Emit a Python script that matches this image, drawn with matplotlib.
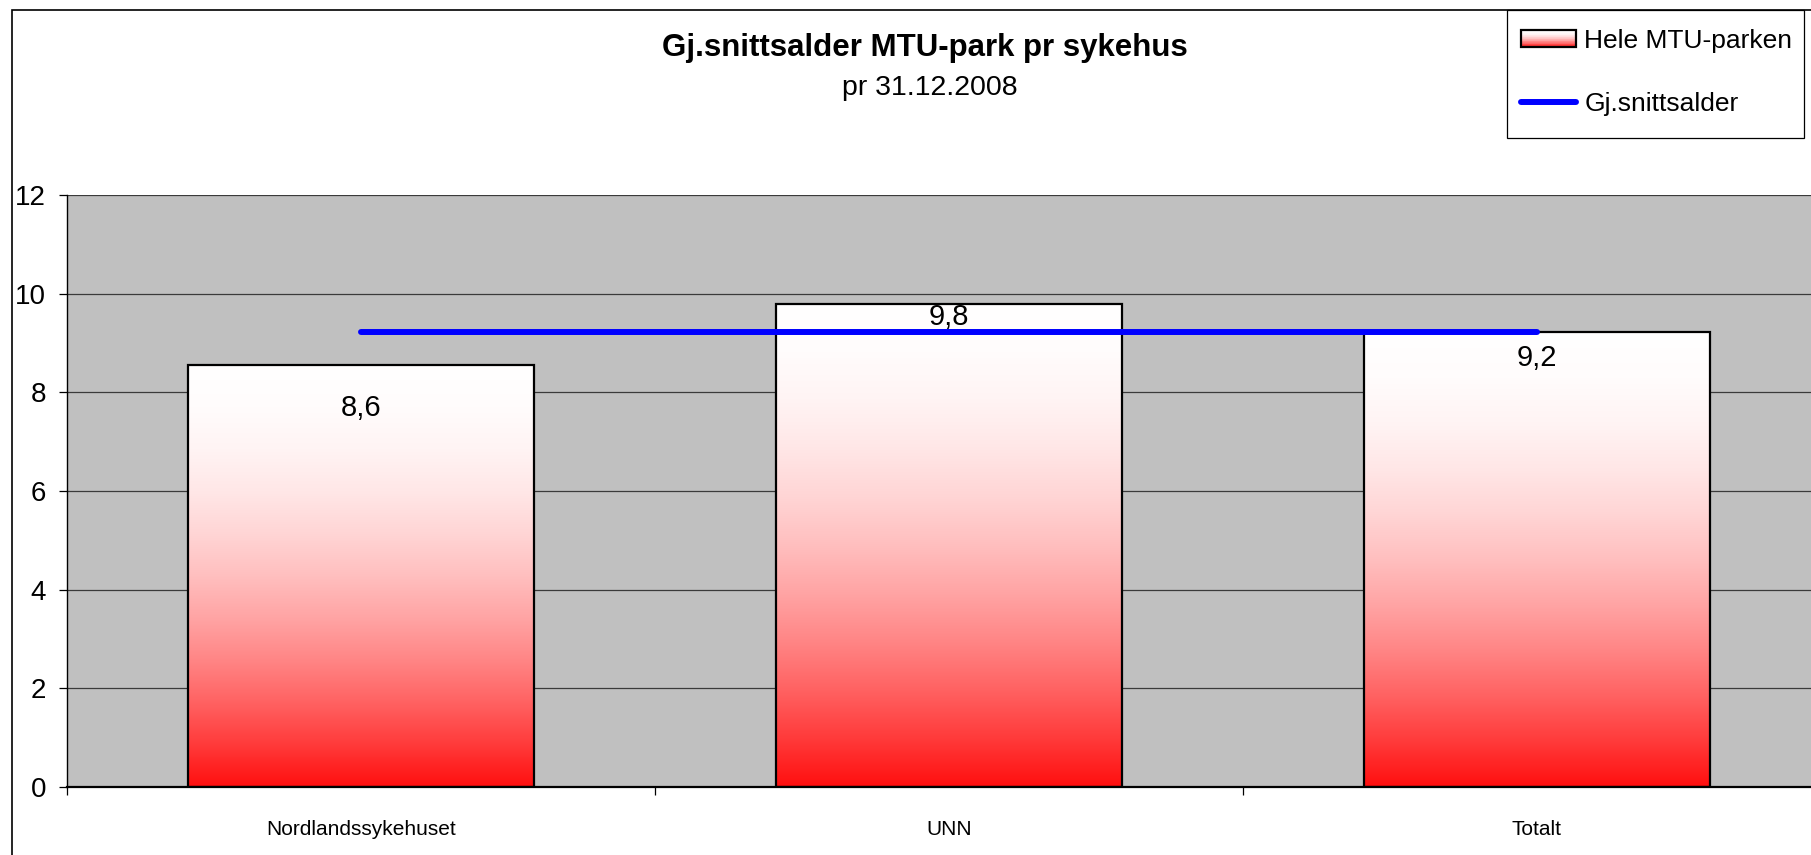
"""
Gj.snittsalder MTU-park pr sykehus - gradient bar chart with average line
"""

import matplotlib
matplotlib.use('Agg')
import matplotlib.pyplot as plt, numpy as np
from matplotlib.colors import LinearSegmentedColormap
from matplotlib.patches import Rectangle
from matplotlib.lines import Line2D
from matplotlib.legend_handler import HandlerBase
from matplotlib import font_manager

plt.rcParams['font.family'] = ['Liberation Sans', 'DejaVu Sans']

# data
sykehus = ['Nordlandssykehuset', 'UNN', 'Totalt']
alder = [8.55, 9.80, 9.22]
etiketter = ['8,6', '9,8', '9,2']
snitt = 9.22

title = 'Gj.snittsalder MTU-park pr sykehus'
subtitle = 'pr 31.12.2008'
bar_label = 'Hele MTU-parken'
line_label = 'Gj.snittsalder'

# red at bottom fading to white at the top, stays pale for a long way
f = np.linspace(0, 1, 11)
red_amt = (1 - f) ** 1.9
stops = [(fi, (1.0, 1 - 0.94 * r, 1 - 0.94 * r)) for fi, r in zip(f, red_amt)]
cmap = LinearSegmentedColormap.from_list('wr', stops)

narrow = 'Liberation Sans Narrow'
try:
    font_manager.findfont(narrow, fallback_to_default=False)
    cat_family = [narrow, 'Liberation Sans']
    cat_size = 18.5
except Exception:
    cat_family = ['Liberation Sans']
    cat_size = 15

W, H = 1811, 855
fig = plt.figure(figsize=(W / 100, H / 100), dpi=100)
fig.patch.set_facecolor('white')

# plot area runs past the right edge of the picture, like the reference
ax = fig.add_axes([67 / W, 1 - 787 / H, (1831 - 67) / W, (787 - 195) / H])
ax.set_facecolor('#c0c0c0')
ax.set_xlim(-0.5, 2.5)
ax.set_ylim(0, 12)

x = np.arange(len(sykehus))
bw = 0.59
grad = np.linspace(0, 1, 256).reshape(-1, 1)
for xi, v in zip(x, alder):
    ax.imshow(grad, cmap=cmap, extent=(xi - bw / 2, xi + bw / 2, 0, v),
              aspect='auto', origin='lower', zorder=2, interpolation='bilinear')
bars = ax.bar(x, alder, width=bw, facecolor='none', edgecolor='black',
              linewidth=1.6, zorder=3)

ax.plot(x, [snitt] * len(x), color='#0000ff', linewidth=4.3,
        solid_capstyle='round', zorder=4)

# value labels sit a little inside the bar tops
label_drop = [43, 13, 26]
for xi, v, txt, d in zip(x, alder, etiketter, label_drop):
    ax.annotate(txt, (xi, v), xytext=(0, -d), textcoords='offset pixels',
                ha='center', va='center', fontsize=21, zorder=5)

ax.set_yticks(range(0, 13, 2))
ax.yaxis.grid(True, color='#3a3a3a', linewidth=0.9)
ax.set_axisbelow(True)
ax.tick_params(axis='y', length=6, width=0.9, pad=9, labelsize=20)

ax.set_xticks([-0.5, 0.5, 1.5, 2.5])
ax.set_xticklabels([])
ax.set_xticks(x, minor=True)
ax.set_xticklabels(sykehus, minor=True, family=cat_family, fontsize=cat_size)
ax.tick_params(axis='x', which='major', length=6, width=0.9, direction='out')
ax.tick_params(axis='x', which='minor', length=0, pad=24)

for s in ['top', 'right']:
    ax.spines[s].set_visible(False)
ax.spines['left'].set_linewidth(1.0)
ax.spines['bottom'].set_linewidth(1.6)

fig.text(925 / W, 1 - 48 / H, title, ha='center', va='center',
         fontsize=22.5, fontweight='bold')
fig.text(930 / W, 1 - 88 / H, subtitle, ha='center', va='center', fontsize=20.5)


class GradientHandler(HandlerBase):
    def create_artists(self, legend, orig, xd, yd, width, height, fontsize, trans):
        n = 24
        arts = []
        for i in range(n):
            c = cmap(i / (n - 1))
            arts.append(Rectangle((-xd, -yd + height * i / n), width, height / n + 0.3,
                                  facecolor=c, edgecolor='none', transform=trans))
        arts.append(Rectangle((-xd, -yd), width, height, facecolor='none',
                              edgecolor='black', linewidth=1.6, transform=trans))
        return arts


handles = [Rectangle((0, 0), 1, 1), Line2D([], [], color='#0000ff', linewidth=4.3,
                                            solid_capstyle='round')]
leg = fig.legend(handles, [bar_label, line_label], loc='upper left',
                 bbox_to_anchor=(1521 / W, 1 - 29 / H),
                 handler_map={Rectangle: GradientHandler()},
                 fontsize=19, frameon=False, borderpad=0, labelspacing=1.46,
                 handlelength=2.1, handleheight=0.6, handletextpad=0.3,
                 borderaxespad=0)
leg.set_zorder(6)

# legend box drawn on its own, Excel leaves little room on the right
fig.add_artist(Rectangle((1507 / W, 1 - 138 / H), 297 / W, 128 / H,
                         transform=fig.transFigure, facecolor='white',
                         edgecolor='black', linewidth=0.9, zorder=5))

# outer chart border (only top and left are inside the picture)
fig.add_artist(Rectangle((12 / W, -0.1), 1.2, 1.1 - 10 / H, transform=fig.transFigure,
                         fill=False, edgecolor='black', linewidth=1.2))

fig.savefig('out.png', dpi=100)
